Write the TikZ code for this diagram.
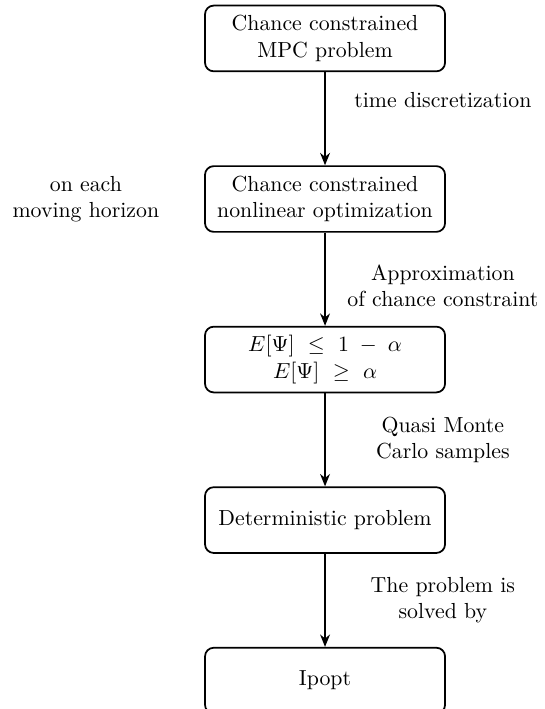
\documentclass[tikz,border=0pt]{standalone}
\usepackage{amsmath,amssymb}
\usetikzlibrary{arrows.meta,positioning}

\begin{document}
\begin{tikzpicture}[
	node distance = 1.5cm,
	stepbox/.style = {draw, thick, rounded corners, align=center,
		minimum width=3.87cm, minimum height=1.06cm},
	flow/.style = {-{Stealth[length=2mm,width=1.6mm]}, semithick},
	note/.style = {align=center}
	]
	
	\useasboundingbox (-5.24,0.62) rectangle (3.53,-10.81);
	
	\node[stepbox] (mpc) at (0,0) {Chance constrained\\ MPC problem};
	\node[stepbox, below=of mpc] (nlp) {Chance constrained\\ nonlinear optimization};
	\node[stepbox, below=of nlp] (approx) {$E[\Psi]\ \leq\ 1\;-\;\alpha$\\ $E[\Psi]\ \geq\ \alpha$};
	\node[stepbox, below=of approx] (det) {Deterministic problem};
	\node[stepbox, below=of det] (ipopt) {Ipopt};
	
	\node[note, left=0.6cm of nlp] (horizon) {on each\\ moving horizon};
	
	\draw[flow] (mpc) -- (nlp) node[note, midway, xshift=1.9cm, yshift=0.3cm] (disc) {time discretization};
	\draw[flow] (nlp) -- (approx) node[note, midway, xshift=1.9cm, yshift=-0.1cm] (appr) {Approximation\\ of chance constraint};
	\draw[flow] (approx) -- (det) node[note, midway, xshift=1.9cm] (qmc) {Quasi Monte\\ Carlo samples};
	\draw[flow] (det) -- (ipopt) node[note, midway, xshift=1.9cm] (solve) {The problem is\\ solved by};
	
\end{tikzpicture}
\end{document}
